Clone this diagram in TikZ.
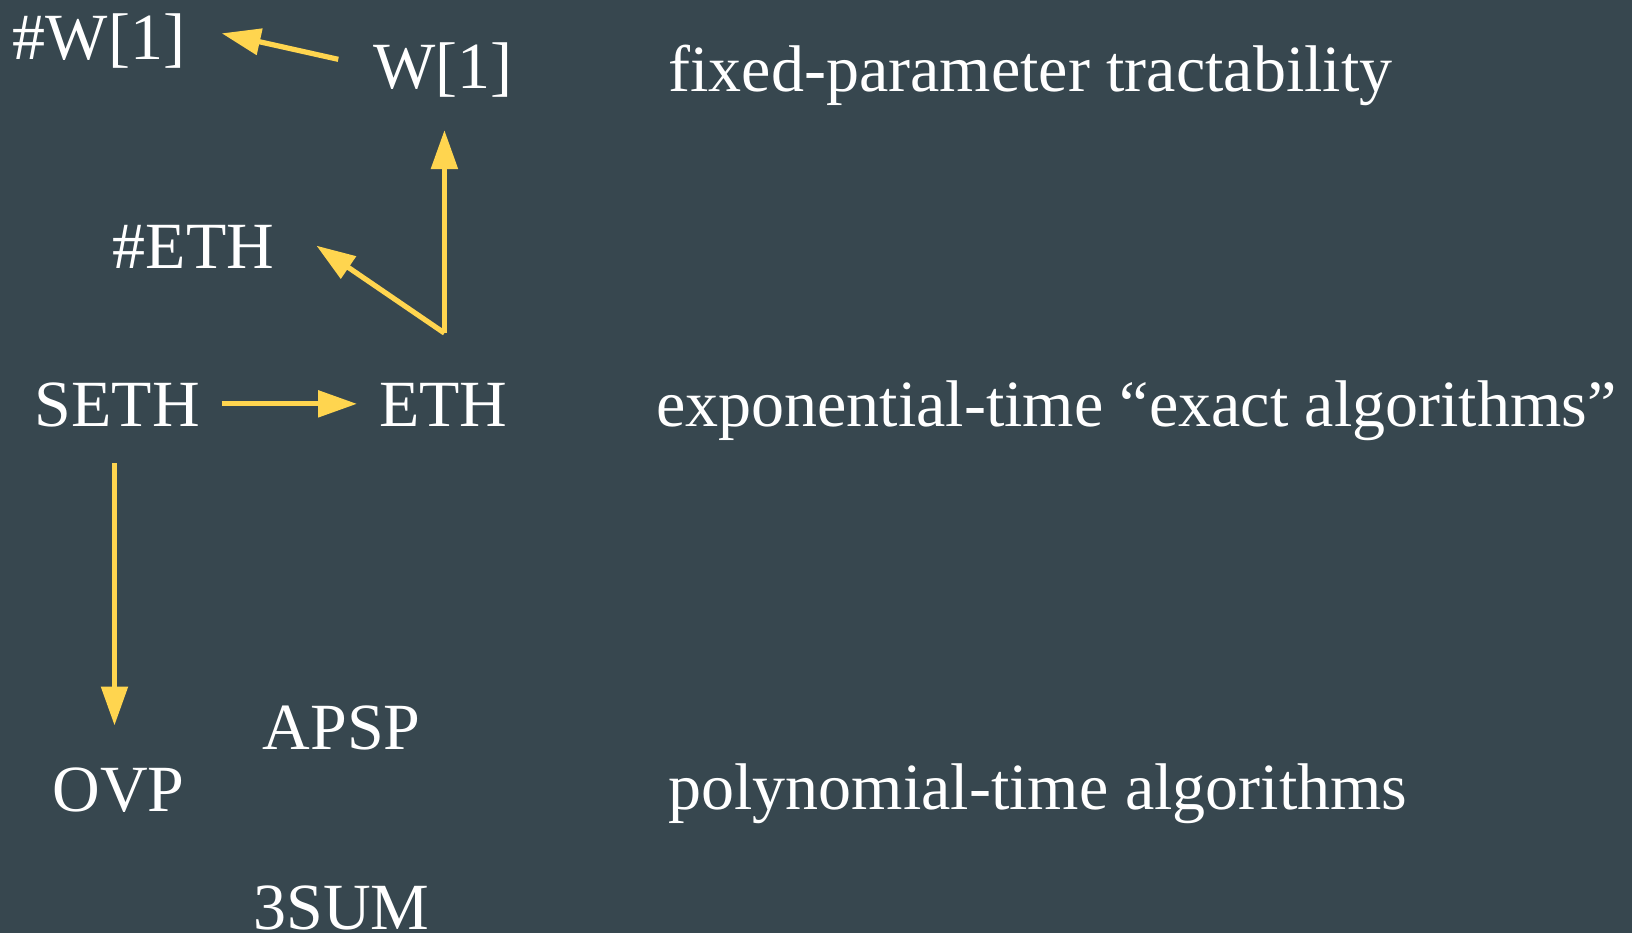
\documentclass[tikz,border=0pt]{standalone}
\usepackage{fontspec}
\setmainfont{Liberation Serif}
\usetikzlibrary{calc,arrows.meta}
\definecolor{bg}{RGB}{55,71,79}
\definecolor{arrowyellow}{RGB}{255,213,79}
\tikzset{
  lbl/.style={anchor=base west, inner sep=0pt, text=white, font=\fontsize{31.7}{38}\selectfont},
  arr/.style={draw=arrowyellow, line width=2.5pt, -{Triangle[length=18.7pt,width=12.5pt]}},
  seg/.style={draw=arrowyellow, line width=2.5pt}
}
\begin{document}
\begin{tikzpicture}[x=0.5pt,y=-0.5pt]
\fill[bg] (0,0) rectangle (1568,896);
\useasboundingbox (0,0) rectangle (1568,896);
\node[lbl] (sw1) at (12,57) {\#W[1]};
\node[lbl] (w1) at (358,85) {W[1]};
\node[lbl] (fpt) at (642,88) {fixed-parameter tractability};
\node[lbl] (seth2) at (108,258) {\#ETH};
\node[lbl] (seth) at (33,410) {SETH};
\node[lbl] (eth) at (364,410) {ETH};
\node[lbl] (exp) at (630,410) {exponential-time “exact algorithms”};
\node[lbl] (apsp) at (252,720) {APSP};
\node[lbl] (ovp) at (50,780) {OVP};
\node[lbl] (poly) at (642,778) {polynomial-time algorithms};
\node[lbl] (sum3) at (243,893) {3SUM};
\coordinate (fork) at ($(eth.base west)+(63,-90)$);
\draw[arr] ($(w1.base west)+(-33,-28)$) -- ($(sw1.base west)+(201,-25)$);
\draw[arr] (fork) -- ($(w1.base west)+(69,40)$);
\draw[arr] (fork) -- ($(seth2.base west)+(196,-22)$);
\draw[arr] ($(seth.base west)+(180,-22)$) -- ($(eth.base west)+(-21,-22)$);
\draw[arr] ($(seth.base west)+(77,35)$) -- ($(ovp.base west)+(60,-83)$);
\end{tikzpicture}
\end{document}
